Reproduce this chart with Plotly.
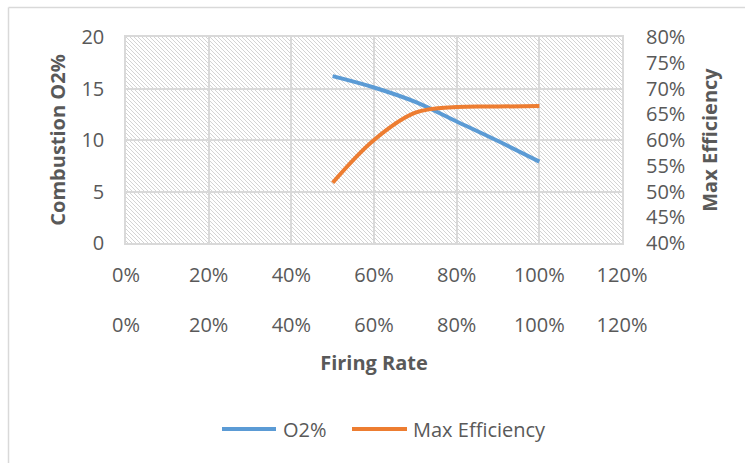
import base64
import plotly.graph_objects as go

# Firing rate (fraction of full load) and measured values
firing_rate = [0.5, 0.6, 0.7, 0.8, 0.9, 1.0]
o2_percent = [16.2, 15.1, 13.7, 11.8, 9.9, 7.9]
max_efficiency = [0.517, 0.600, 0.653, 0.664, 0.665, 0.666]

series_names = ["O2%", "Max Efficiency"]
series_colors = ["#5B9BD5", "#ED7D31"]

W, H = 745, 463
ML, MR, MT, MB = 126, 123, 37, 220
PW, PH = W - ML - MR, H - MT - MB

TEXT = "#595959"
GRID = "#d9d9d9"
FONT = "Open Sans"
FS = 20

# light downward-diagonal hatch used as the plot-area fill
hatch_svg = f"""<svg xmlns='http://www.w3.org/2000/svg' width='{PW}' height='{PH}' viewBox='0 0 {PW} {PH}'>
<defs><pattern id='h' width='4' height='4' patternUnits='userSpaceOnUse'>
<path d='M-1,-1 L5,5 M-1,3 L1,5 M3,-1 L5,1' stroke='#d4d4d4' stroke-width='1'/>
</pattern></defs>
<rect width='{PW}' height='{PH}' fill='white'/>
<rect width='{PW}' height='{PH}' fill='url(#h)'/>
</svg>"""
hatch_uri = "data:image/svg+xml;base64," + base64.b64encode(hatch_svg.encode()).decode()

fig = go.Figure()
fig.add_trace(go.Scatter(
    x=firing_rate, y=o2_percent, name=series_names[0], mode="lines",
    line=dict(color=series_colors[0], width=4, shape="spline"),
    xaxis="x", yaxis="y", showlegend=False,
))
fig.add_trace(go.Scatter(
    x=firing_rate, y=max_efficiency, name=series_names[1], mode="lines",
    line=dict(color=series_colors[1], width=4, shape="spline"),
    xaxis="x2", yaxis="y2", showlegend=False,
))


def px_x(px):
    return (px - ML) / PW


def px_y(py):
    return (H - MB - py) / PH


tick_font = dict(family=FONT, size=FS, color=TEXT)
title_font = dict(family=FONT, size=FS, color=TEXT, weight="bold")

# legend drawn as line swatches with labels beneath the chart
legend_y = px_y(429)
legend_items = [(222, 276, 281), (352, 407, 411)]
shapes = []
annotations = []
for (x0, x1, xt), name, color in zip(legend_items, series_names, series_colors):
    shapes.append(dict(type="line", xref="paper", yref="paper",
                       x0=px_x(x0), x1=px_x(x1), y0=legend_y, y1=legend_y,
                       line=dict(color=color, width=4)))
    annotations.append(dict(text=name, xref="paper", yref="paper",
                            x=px_x(xt), y=legend_y, xanchor="left", yanchor="middle",
                            showarrow=False, font=dict(family=FONT, size=FS, color=TEXT)))

# chart frame (left and top edges)
shapes += [
    dict(type="line", xref="paper", yref="paper",
         x0=px_x(8.5), x1=px_x(8.5), y0=px_y(7.5), y1=px_y(480),
         line=dict(color=GRID, width=1.5)),
    dict(type="line", xref="paper", yref="paper",
         x0=px_x(8.5), x1=px_x(760), y0=px_y(7.5), y1=px_y(7.5),
         line=dict(color=GRID, width=1.5)),
]

fig.update_layout(
    width=W, height=H,
    margin=dict(l=ML, r=MR, t=MT, b=MB, pad=0),
    paper_bgcolor="white", plot_bgcolor="white",
    font=dict(family=FONT, color=TEXT),
    showlegend=False,
    xaxis=dict(
        range=[0, 1.2], dtick=0.2, tick0=0, tickformat=".0%",
        showgrid=True, gridcolor=GRID, gridwidth=1.5,
        showline=True, linecolor=GRID, linewidth=1.5, mirror=True,
        zeroline=False, ticks="", tickfont=tick_font, ticklabelstandoff=13,
    ),
    xaxis2=dict(
        range=[0, 1.2], dtick=0.2, tick0=0, tickformat=".0%",
        overlaying="x", side="bottom", anchor="y",
        showgrid=False, showline=False, zeroline=False, ticks="",
        tickfont=tick_font, ticklabelstandoff=68,
        title=dict(text="Firing Rate", font=title_font, standoff=18),
    ),
    yaxis=dict(
        range=[0, 20], dtick=5, tick0=0,
        showgrid=True, gridcolor=GRID, gridwidth=1.5,
        showline=True, linecolor=GRID, linewidth=1.5, mirror=True,
        zeroline=False, ticks="", tickfont=tick_font, ticklabelstandoff=16,
        title=dict(text="Combustion O2%", font=title_font, standoff=10),
    ),
    yaxis2=dict(
        range=[0.4, 0.8], dtick=0.05, tick0=0.4, tickformat=".0%",
        overlaying="y", side="right", anchor="x",
        showgrid=False, showline=False, zeroline=False, ticks="",
        tickfont=tick_font, ticklabelstandoff=23,
        title=dict(text="Max Efficiency", font=title_font, standoff=18),
    ),
    images=[dict(
        source=hatch_uri, xref="paper", yref="paper", x=0, y=1,
        sizex=1, sizey=1, sizing="stretch", layer="below",
        xanchor="left", yanchor="top",
    )],
    shapes=shapes,
    annotations=annotations,
)

fig.write_html("out.html")
